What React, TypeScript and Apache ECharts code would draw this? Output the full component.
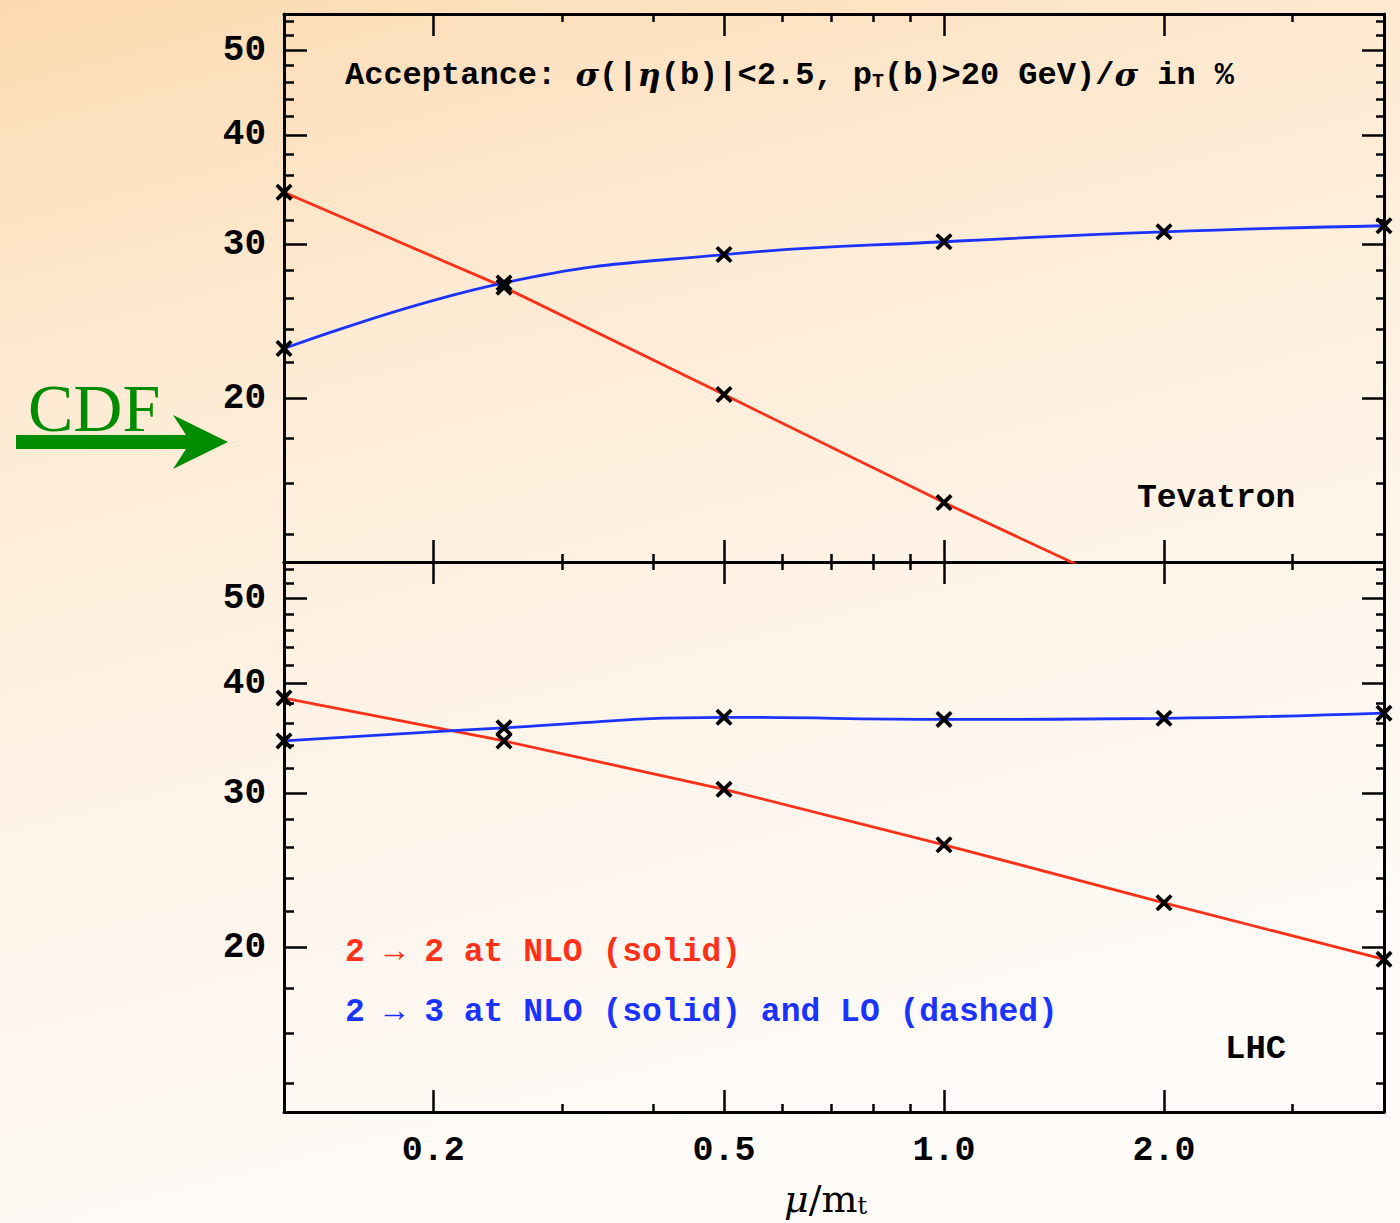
import React, { useEffect, useRef } from "react";
import * as echarts from "echarts";

// ---- data ----
const muValues = [0.125, 0.25, 0.5, 1.0, 2.0, 4.0];
// Tevatron, 2->2 at NLO (last point falls below the frame and is clipped)
const tevatron22 = [34.4, 26.8, 20.2, 15.2, 11.6];
// Tevatron, 2->3 at NLO
const tevatron23 = [22.8, 27.1, 29.2, 30.2, 31.0, 31.5];
// LHC, 2->2 at NLO
const lhc22 = [38.5, 34.4, 30.3, 26.2, 22.5, 19.4];
// LHC, 2->3 at NLO
const lhc23 = [34.4, 35.6, 36.6, 36.4, 36.5, 37.0];

const xMajorTicks = [0.2, 0.5, 1.0, 2.0];
const xMinorTicks = [0.3, 0.4, 0.6, 0.7, 0.8, 0.9, 3.0];
const yMajorTicks = [20, 30, 40, 50];
const yMinorTicks = [14, 16, 18, 22, 24, 26, 28, 32, 34, 36, 38, 42, 44, 46, 48, 52, 54];
const xRange = [0.125, 4];
const yRange = [13, 55];

const RED = "#ff3018";
const BLUE = "#1a33ff";
const GREEN = "#008c00";
const MONO = "'Liberation Mono', 'DejaVu Sans Mono', monospace";
const SERIF = "'DejaVu Serif', 'Liberation Serif', serif";

const CROSS =
  "path://M1.5,0 L5,3.3 L8.5,0 L10,1.5 L6.7,5 L10,8.5 L8.5,10 L5,6.7 L1.5,10 L0,8.5 L3.3,5 L0,1.5 Z";

function makeXAxes(gi: number, showLabels: boolean) {
  const base = {
    type: "log",
    logBase: 10,
    min: xRange[0],
    max: xRange[1],
    gridIndex: gi,
    splitLine: { show: false },
    minorTick: { show: false },
    minorSplitLine: { show: false },
  };
  const line = { show: true, onZero: false, lineStyle: { color: "#000", width: 3 } };
  const tick = (vals: number[], len: number) => ({
    show: true,
    inside: true,
    length: len,
    customValues: vals,
    lineStyle: { color: "#000", width: 2.5 },
  });
  return [
    {
      ...base,
      position: "bottom",
      axisLine: line,
      axisTick: tick(xMajorTicks, 22),
      axisLabel: {
        show: showLabels,
        customValues: xMajorTicks,
        formatter: (v: number) => Number(v).toFixed(1),
        color: "#000",
        fontFamily: MONO,
        fontWeight: "bold",
        fontSize: 35,
        margin: 21,
      },
    },
    { ...base, position: "bottom", axisLine: { show: false }, axisTick: tick(xMinorTicks, 8), axisLabel: { show: false } },
    { ...base, position: "top", axisLine: line, axisTick: tick(xMajorTicks, 22), axisLabel: { show: false } },
    { ...base, position: "top", axisLine: { show: false }, axisTick: tick(xMinorTicks, 8), axisLabel: { show: false } },
  ];
}

function makeYAxes(gi: number) {
  const base = {
    type: "log",
    logBase: 10,
    min: yRange[0],
    max: yRange[1],
    gridIndex: gi,
    splitLine: { show: false },
    minorTick: { show: false },
    minorSplitLine: { show: false },
  };
  const line = { show: true, onZero: false, lineStyle: { color: "#000", width: 3 } };
  const tick = (vals: number[], len: number) => ({
    show: true,
    inside: true,
    length: len,
    customValues: vals,
    lineStyle: { color: "#000", width: 2.5 },
  });
  return [
    {
      ...base,
      position: "left",
      axisLine: line,
      axisTick: tick(yMajorTicks, 23),
      axisLabel: {
        show: true,
        customValues: yMajorTicks,
        formatter: (v: number) => String(Math.round(v)),
        color: "#000",
        fontFamily: MONO,
        fontWeight: "bold",
        fontSize: 36,
        margin: 18,
      },
    },
    { ...base, position: "left", axisLine: { show: false }, axisTick: tick(yMinorTicks, 10), axisLabel: { show: false } },
    { ...base, position: "right", axisLine: line, axisTick: tick(yMajorTicks, 22), axisLabel: { show: false } },
    { ...base, position: "right", axisLine: { show: false }, axisTick: tick(yMinorTicks, 8), axisLabel: { show: false } },
  ];
}

function lineSeries(name: string, values: number[], color: string, gi: number, smooth: number | boolean) {
  return {
    name,
    type: "line",
    xAxisIndex: gi * 4,
    yAxisIndex: gi * 4,
    data: values.map((v, i) => [muValues[i], v]),
    smooth,
    clip: true,
    symbol: CROSS,
    symbolSize: 17,
    showSymbol: true,
    showAllSymbol: true,
    itemStyle: { color: "#000", borderWidth: 0 },
    lineStyle: { color, width: 2.8 },
    emphasis: { disabled: true },
    silent: true,
    z: 3,
  };
}

export default function App() {
  const ref = useRef<HTMLDivElement>(null);
  useEffect(() => {
    if (!ref.current) return;
    const chart = echarts.init(ref.current, null, { renderer: "svg" });
    const option = {
      animation: false,
      backgroundColor: new echarts.graphic.LinearGradient(0, 0, 0.3, 1, [
        { offset: 0, color: "#fcdab0" },
        { offset: 0.3, color: "#feead2" },
        { offset: 0.65, color: "#fef4e9" },
        { offset: 1, color: "#fffbf8" },
      ]),
      grid: [
        { left: 284, right: 16, top: 14, height: 548, containLabel: false },
        { left: 284, right: 16, top: 562, height: 550, containLabel: false },
      ],
      xAxis: [...makeXAxes(0, false), ...makeXAxes(1, true)],
      yAxis: [...makeYAxes(0), ...makeYAxes(1)],
      series: [
        lineSeries("Tevatron 2→2 NLO", tevatron22, RED, 0, false),
        lineSeries("Tevatron 2→3 NLO", tevatron23, BLUE, 0, 0.45),
        lineSeries("LHC 2→2 NLO", lhc22, RED, 1, false),
        lineSeries("LHC 2→3 NLO", lhc23, BLUE, 1, 0.45),
      ],
      graphic: [
        {
          type: "text",
          left: 345,
          top: 59,
          style: {
            text: "Acceptance: {g|σ}(|{g|η}(b)|<2.5, p{s|T}(b)>20 GeV)/{g|σ} in %",
            fontFamily: MONO,
            fontWeight: "bold",
            fontSize: 32,
            fill: "#000",
            rich: {
              g: { fontFamily: SERIF, fontStyle: "italic", fontWeight: "bold", fontSize: 32, fill: "#000" },
              s: { fontFamily: MONO, fontWeight: "bold", fontSize: 20, fill: "#000", verticalAlign: "bottom", lineHeight: 24 },
            },
          },
        },
        {
          type: "text",
          left: 1137,
          top: 482,
          style: { text: "Tevatron", fontFamily: MONO, fontWeight: "bold", fontSize: 33, fill: "#000" },
        },
        {
          type: "text",
          left: 1225,
          top: 1032,
          style: { text: "LHC", fontFamily: MONO, fontWeight: "bold", fontSize: 34, fill: "#000" },
        },
        {
          type: "text",
          left: 345,
          top: 936,
          style: { text: "2 → 2 at NLO (solid)", fontFamily: MONO, fontWeight: "bold", fontSize: 33, fill: RED },
        },
        {
          type: "text",
          left: 345,
          top: 996,
          style: {
            text: "2 → 3 at NLO (solid) and LO (dashed)",
            fontFamily: MONO,
            fontWeight: "bold",
            fontSize: 33,
            fill: BLUE,
          },
        },
        {
          type: "text",
          left: 784,
          top: 1180,
          style: {
            text: "{i|μ}/m{s|t}",
            fontFamily: SERIF,
            fontSize: 38,
            fill: "#000",
            rich: {
              i: { fontFamily: SERIF, fontStyle: "italic", fontSize: 38, fill: "#000" },
              s: { fontFamily: SERIF, fontSize: 24, fill: "#000", verticalAlign: "bottom", lineHeight: 28 },
            },
          },
        },
        {
          type: "text",
          left: 28,
          top: 374,
          style: { text: "CDF", fontFamily: "'Liberation Serif', serif", fontSize: 68, fill: GREEN },
        },
        {
          type: "polygon",
          shape: {
            points: [
              [16, 435],
              [186, 435],
              [173, 415],
              [228, 442],
              [173, 469],
              [186, 449],
              [16, 449],
            ],
          },
          style: { fill: GREEN },
        },
      ],
    };
    chart.setOption(option as any);
    return () => chart.dispose();
  }, []);
  return (
    <div
      ref={ref}
      style={{ position: "fixed", left: 0, top: 0, width: 1400, height: 1223 }}
    />
  );
}
